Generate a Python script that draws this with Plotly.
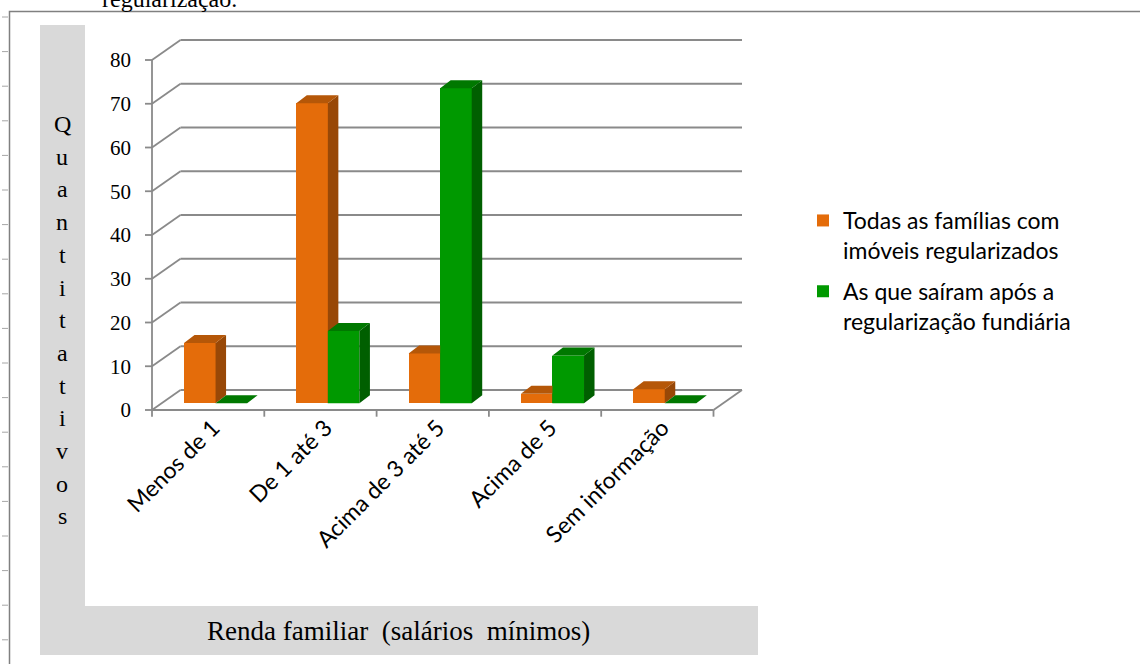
import plotly.graph_objects as go

# ---------------- data ----------------
categories = ["Menos de 1", "De 1 até 3", "Acima de 3 até 5", "Acima de 5", "Sem informação"]
series_names = ["Todas as famílias com<br>imóveis regularizados",
                "As que saíram após a<br>regularização fundiária"]
todas = [13.8, 68.6, 11.4, 2.2, 3.2]
sairam = [0.0, 16.5, 72.0, 10.9, 0.0]
y_ticks = [0, 10, 20, 30, 40, 50, 60, 70, 80]
y_title = "Quantitativos"
x_title = "Renda familiar  (salários  mínimos)"
top_text = "regularização."

# ---------------- geometry (figure pixels) ----------------
FIG_W, FIG_H = 1140, 664
L, R, T, B = 136, 760, 30, 418          # plot area in px
PX0, PXW = 152, 112.3                   # px of x=-0.5, px per category
PY0, PYU = 410, 4.375                   # px of y=0, px per unit
W, H = R - L, B - T

x_range = [-0.5 + (L - PX0) / PXW, -0.5 + (R - PX0) / PXW]
y_range = [(PY0 - B) / PYU, (PY0 - T) / PYU]

DX, DY = 28.5 / PXW, 20 / PYU           # wall depth offset
BASE = 6.7 / PYU                        # bar base height (bars sit at 1/3 depth)
BDX, BDY = 10.5 / PXW, 8 / PYU          # bar depth offset
BW = 0.281
OFF = [-0.215, -0.215 + BW]

ORANGE = ["#E46C0A", "#984807", "#B55708"]   # front, side, top
GREEN = ["#009900", "#005F00", "#007800"]
GRID = "#8A8A8A"


def pxx(px):
    return (px - L) / W


def pxy(py):
    return (B - py) / H


fig = go.Figure()

# front faces (real bars)
for vals, name, col, off in [(todas, series_names[0], ORANGE, OFF[0]),
                              (sairam, series_names[1], GREEN, OFF[1])]:
    fig.add_trace(go.Bar(x=list(range(len(categories))), y=vals, base=BASE,
                         width=BW, offset=off, name=name,
                         marker=dict(color=col[0], line=dict(width=0)),
                         legendgroup=name, hoverinfo="skip"))


def faces(vals, off):
    side_x, side_y, top_x, top_y, fr_x, fr_y = [], [], [], [], [], []
    for i, v in enumerate(vals):
        x0 = i + off
        x1 = x0 + BW
        y0 = BASE
        y1 = BASE + v
        side_x += [x1, x1 + BDX, x1 + BDX, x1, x1, None]
        side_y += [y0, y0 + BDY, y1 + BDY, y1, y0, None]
        top_x += [x0, x1, x1 + BDX, x0 + BDX, x0, None]
        top_y += [y1, y1, y1 + BDY, y1 + BDY, y1, None]
        fr_x += [x0, x1, x1, x0, x0, None]
        fr_y += [y0, y0, y1, y1, y0, None]
    return side_x, side_y, top_x, top_y, fr_x, fr_y


def poly(xs, ys, color):
    fig.add_trace(go.Scatter(x=xs, y=ys, fill="toself", fillcolor=color, mode="none",
                             showlegend=False, hoverinfo="skip"))


osx, osy, otx, oty, _, _ = faces(todas, OFF[0])
poly(osx, osy, ORANGE[1])
poly(otx, oty, ORANGE[2])
gsx, gsy, gtx, gty, gfx, gfy = faces(sairam, OFF[1])
poly(gfx, gfy, GREEN[0])
poly(gsx, gsy, GREEN[1])
poly(gtx, gty, GREEN[2])

shapes = []
# outer border
shapes.append(dict(type="rect", xref="paper", yref="paper", x0=pxx(9.5), x1=pxx(1150),
                   y0=pxy(11.5), y1=pxy(680), line=dict(color="#808080", width=1.5),
                   layer="below"))
# page ruler marks on the left
for k in range(19):
    yy = 17 + k * 34.6
    shapes.append(dict(type="line", xref="paper", yref="paper", x0=pxx(2), x1=pxx(8),
                       y0=pxy(yy), y1=pxy(yy), line=dict(color="#A6A6A6", width=1),
                       layer="below"))
# grey title panels (L shape)
shapes.append(dict(type="rect", xref="paper", yref="paper", x0=pxx(40), x1=pxx(85),
                   y0=pxy(25), y1=pxy(655), fillcolor="#D9D9D9", line=dict(width=0),
                   layer="below"))
shapes.append(dict(type="rect", xref="paper", yref="paper", x0=pxx(40), x1=pxx(758),
                   y0=pxy(606), y1=pxy(655), fillcolor="#D9D9D9", line=dict(width=0),
                   layer="below"))

xl, xr = -0.5, len(categories) - 0.5
TL = 7 / PXW
line = dict(color=GRID, width=1.8)
for v in y_ticks:
    shapes.append(dict(type="line", x0=xl + DX, x1=xr + DX, y0=v + DY, y1=v + DY, line=line, layer="below"))
    shapes.append(dict(type="line", x0=xl, x1=xl + DX, y0=v, y1=v + DY, line=line, layer="below"))
    shapes.append(dict(type="line", x0=xl - TL, x1=xl, y0=v, y1=v, line=line, layer="below"))
shapes.append(dict(type="line", x0=xl, x1=xl, y0=0, y1=y_ticks[-1], line=line, layer="below"))
shapes.append(dict(type="line", x0=xl, x1=xr, y0=0, y1=0, line=line, layer="below"))
shapes.append(dict(type="line", x0=xr, x1=xr + DX, y0=0, y1=DY, line=line, layer="below"))
for k in range(len(categories) + 1):
    shapes.append(dict(type="line", x0=k - 0.5, x1=k - 0.5, y0=0, y1=-6.7 / PYU, line=line, layer="below"))

annotations = []
# vertical stacked y title
for k, ch in enumerate(y_title):
    annotations.append(dict(text=ch, xref="paper", yref="paper", x=pxx(62), y=pxy(124 + k * 32.7),
                            xanchor="center", yanchor="middle", showarrow=False,
                            font=dict(family="Liberation Serif", size=24, color="#000000")))
annotations.append(dict(text=x_title, xref="paper", yref="paper", x=pxx(398), y=pxy(631),
                        xanchor="center", yanchor="middle", showarrow=False,
                        font=dict(family="Liberation Serif", size=27, color="#000000")))
annotations.append(dict(text=top_text, xref="paper", yref="paper", x=pxx(100), y=pxy(14),
                        xanchor="left", yanchor="bottom", showarrow=False,
                        font=dict(family="Liberation Serif", size=24, color="#000000")))

fig.update_layout(
    width=FIG_W, height=FIG_H,
    margin=dict(l=L, r=FIG_W - R, t=T, b=FIG_H - B, autoexpand=False),
    paper_bgcolor="white", plot_bgcolor="rgba(0,0,0,0)",
    barmode="overlay", bargap=0,
    xaxis=dict(range=x_range, tickvals=list(range(len(categories))), ticktext=categories,
               tickangle=-45, showgrid=False, zeroline=False, showline=False, ticks="",
               ticklabelstandoff=-9, ticklabelshift=5,
               tickfont=dict(family="Lato", size=23, color="#000000"), fixedrange=True),
    yaxis=dict(range=y_range, tickvals=y_ticks, showgrid=False, zeroline=False,
               showline=False, ticks="", ticklabelstandoff=4,
               tickfont=dict(family="Liberation Serif", size=21, color="#000000"), fixedrange=True),
    legend=dict(x=pxx(803), y=pxy(199), xanchor="left", yanchor="top",
                font=dict(family="Lato", size=23, color="#000000"),
                valign="top", tracegroupgap=8, bgcolor="rgba(0,0,0,0)"),
    shapes=shapes, annotations=annotations, showlegend=True,
)

fig.write_html("out.html", config={"displayModeBar": False, "staticPlot": True},
               post_script="document.body.style.margin='0';")
